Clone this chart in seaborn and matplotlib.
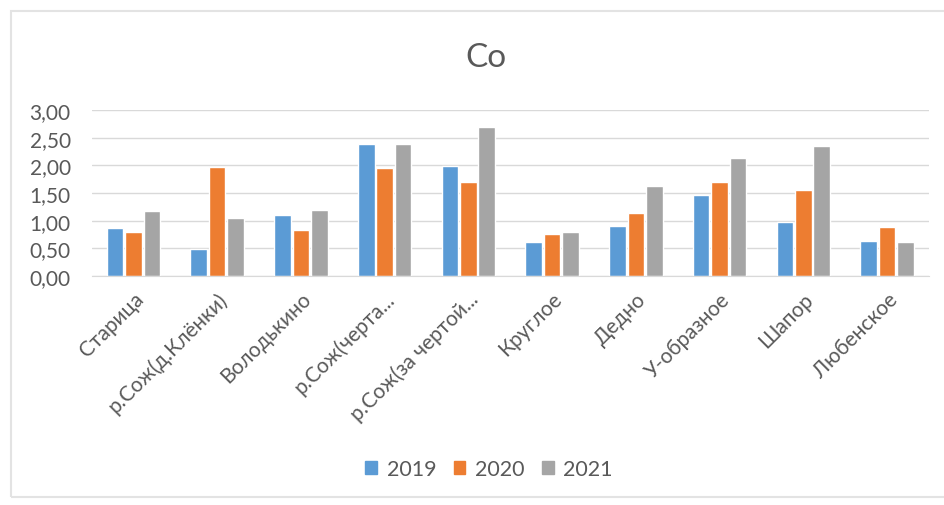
import matplotlib
matplotlib.use("Agg")
from matplotlib import pyplot as plt
from matplotlib.patches import Rectangle
import seaborn as sns
import pandas as pd

sites = ['Старица', 'р.Сож(д.Клёнки)', 'Володькино', 'р.Сож(черта...', 'р.Сож(за чертой...',
         'Круглое', 'Дедно', 'У-образное', 'Шапор', 'Любенское']
years = ['2019', '2020', '2021']
co_2019 = [0.87, 0.48, 1.10, 2.38, 1.99, 0.61, 0.90, 1.47, 0.98, 0.63]
co_2020 = [0.80, 1.97, 0.84, 1.96, 1.70, 0.76, 1.14, 1.70, 1.56, 0.88]
co_2021 = [1.18, 1.04, 1.19, 2.38, 2.70, 0.79, 1.63, 2.13, 2.35, 0.62]
colors = ['#5B9BD5', '#ED7D31', '#A5A5A5']

rows = []
for year, vals in zip(years, [co_2019, co_2020, co_2021]):
    for site, v in zip(sites, vals):
        rows.append({'site': site, 'year': year, 'value': v})
df = pd.DataFrame(rows)

sns.set_style('white')
plt.rcParams['font.family'] = ['Lato', 'DejaVu Sans']

fig = plt.figure(figsize=(9.44, 5.06), dpi=100)
ax = fig.add_axes([0.097, 0.4526, 0.887, 0.328])

sns.barplot(data=df, x='site', y='value', hue='year', order=sites, hue_order=years,
            palette=colors, width=0.66, gap=0.1, saturation=1, ax=ax, legend=False)

ax.set_ylim(0, 3)
ax.set_yticks([0, 0.5, 1, 1.5, 2, 2.5, 3])
ax.set_yticklabels([f'{t:.2f}'.replace('.', ',') for t in ax.get_yticks()],
                   fontsize=15, color='#595959')
ax.yaxis.grid(True, color='#D9D9D9', lw=1)
ax.set_axisbelow(True)
for s in ['top', 'right', 'left']:
    ax.spines[s].set_visible(False)
ax.spines['bottom'].set_color('#D9D9D9')
ax.tick_params(axis='y', length=0, pad=15)
ax.tick_params(axis='x', length=0, pad=9)
ax.set_xlabel('')
ax.set_ylabel('')
plt.setp(ax.get_xticklabels(), rotation=45, ha='right', rotation_mode='anchor',
         fontsize=15, color='#595959')

fig.text(0.515, 0.885, 'Co', ha='center', va='center', fontsize=24, color='#595959')

handles = [Rectangle((0, 0), 1, 1, color=c) for c in colors]
fig.legend(handles, years, loc='center', bbox_to_anchor=(0.518, 0.071), ncol=3,
           frameon=False, fontsize=15.5, handlelength=0.55, handleheight=0.55,
           columnspacing=0.8, handletextpad=0.45, labelcolor='#595959')

fig.patches.append(Rectangle((0.0117, 0.016), 1.0, 0.96, transform=fig.transFigure,
                             fill=False, edgecolor='#E3E3E3', lw=1.5))

fig.savefig('out.png', dpi=100)
